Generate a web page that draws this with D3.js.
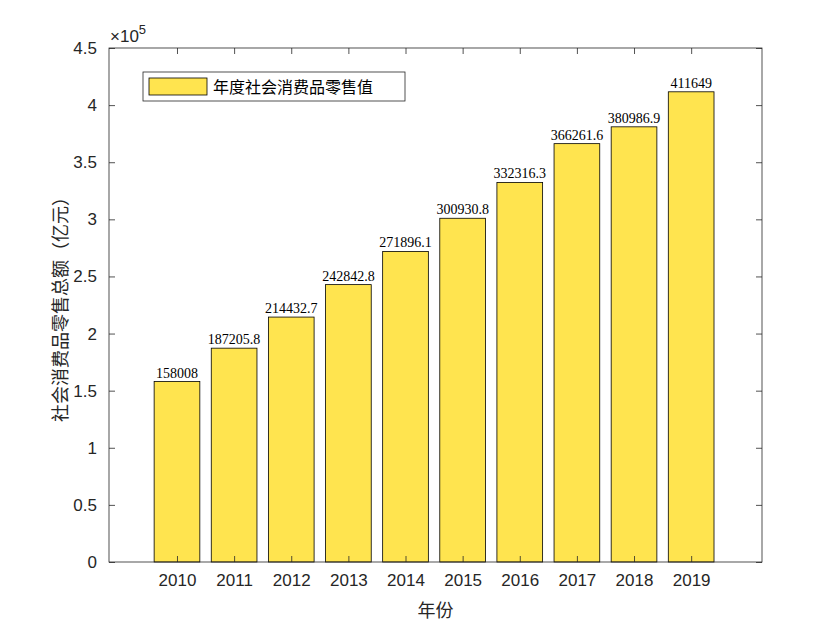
<!DOCTYPE html>
<html><head><meta charset="utf-8">
<script src="https://cdn.jsdelivr.net/npm/d3@7"></script>
<style>body{margin:0;background:#fff}</style></head>
<body><svg id="c" width="840" height="630"></svg>
<script>
const years = [2010,2011,2012,2013,2014,2015,2016,2017,2018,2019];
const values = [158008,187205.8,214432.7,242842.8,271896.1,300930.8,332316.3,366261.6,380986.9,411649];
const valueLabels = ["158008","187205.8","214432.7","242842.8","271896.1","300930.8","332316.3","366261.6","380986.9","411649"];
const yTicks = [0,0.5,1,1.5,2,2.5,3,3.5,4,4.5];
const seriesName = "年度社会消费品零售值";

const svg = d3.select("#c");
const L=109,R=762,T=48,B=562;
const x = d3.scaleLinear().domain([2008.81,2020.24]).range([L,R]);
const y = d3.scaleLinear().domain([0,4.5e5]).range([B,T]);
const bw = x(2010.8)-x(2010);
const ax = "#262626";
const cjk = "'Noto Sans CJK SC', sans-serif";

svg.append("rect").attr("x",L).attr("y",T).attr("width",R-L).attr("height",B-T).attr("fill","#fff");

svg.selectAll("rect.bar").data(values).join("rect").attr("class","bar")
  .attr("x",(d,i)=>x(years[i])-bw/2).attr("y",d=>y(d)).attr("width",bw).attr("height",d=>B-y(d))
  .attr("fill","#FFE44F").attr("stroke","#000").attr("stroke-width",0.8);

svg.selectAll("text.v").data(values).join("text").attr("class","v")
  .attr("x",(d,i)=>x(years[i])).attr("y",d=>y(d)-4).attr("text-anchor","middle")
  .attr("font-family","'Liberation Serif', serif").attr("font-size",14).attr("fill","#000")
  .text((d,i)=>valueLabels[i]);

svg.append("rect").attr("x",L).attr("y",T).attr("width",R-L).attr("height",B-T)
  .attr("fill","none").attr("stroke",ax).attr("stroke-width",0.8);

const ya = svg.append("g").attr("transform",`translate(${L},0)`)
  .call(d3.axisLeft(y).tickValues(yTicks.map(t=>t*1e5)).tickFormat((d,i)=>String(yTicks[i])).tickSizeInner(-6).tickSizeOuter(0).tickPadding(12));
const ya2 = svg.append("g").attr("transform",`translate(${R},0)`)
  .call(d3.axisRight(y).tickValues(yTicks.map(t=>t*1e5)).tickFormat("").tickSizeInner(-6).tickSizeOuter(0));
const xa = svg.append("g").attr("transform",`translate(0,${B})`)
  .call(d3.axisBottom(x).tickValues(years).tickFormat(d3.format("d")).tickSizeInner(-6).tickSizeOuter(0).tickPadding(12));
const xa2 = svg.append("g").attr("transform",`translate(0,${T})`)
  .call(d3.axisTop(x).tickValues(years).tickFormat("").tickSizeInner(-6).tickSizeOuter(0));
[ya,ya2,xa,xa2].forEach(g=>{g.select(".domain").remove();
  g.selectAll("line").attr("stroke",ax).attr("stroke-width",0.8);
  g.selectAll("text").attr("font-family","'Liberation Sans', Arial, sans-serif").attr("font-size",17).attr("fill",ax);});

svg.append("text").attr("x",110).attr("y",42).attr("font-family","'Liberation Sans', sans-serif").attr("font-size",17).attr("fill",ax)
  .html("×10<tspan dy='-8' font-size='13'>5</tspan>");

svg.append("text").attr("x",(L+R)/2).attr("y",617).attr("text-anchor","middle").attr("font-family",cjk).attr("font-size",18).attr("fill",ax).text("年份");
svg.append("text").attr("transform",`translate(67,${(T+B)/2}) rotate(-90)`).attr("text-anchor","middle").attr("font-family",cjk).attr("font-size",18).attr("fill",ax).text("社会消费品零售总额（亿元）");

const lg = svg.append("g");
lg.append("rect").attr("x",143).attr("y",72).attr("width",262).attr("height",29).attr("fill","#fff").attr("stroke",ax).attr("stroke-width",0.8);
lg.append("rect").attr("x",149).attr("y",78).attr("width",58).attr("height",17).attr("fill","#FFE44F").attr("stroke","#000").attr("stroke-width",0.8);
lg.append("text").attr("x",213).attr("y",93).attr("font-family",cjk).attr("font-size",16).attr("fill","#000").text(seriesName);
</script></body></html>
